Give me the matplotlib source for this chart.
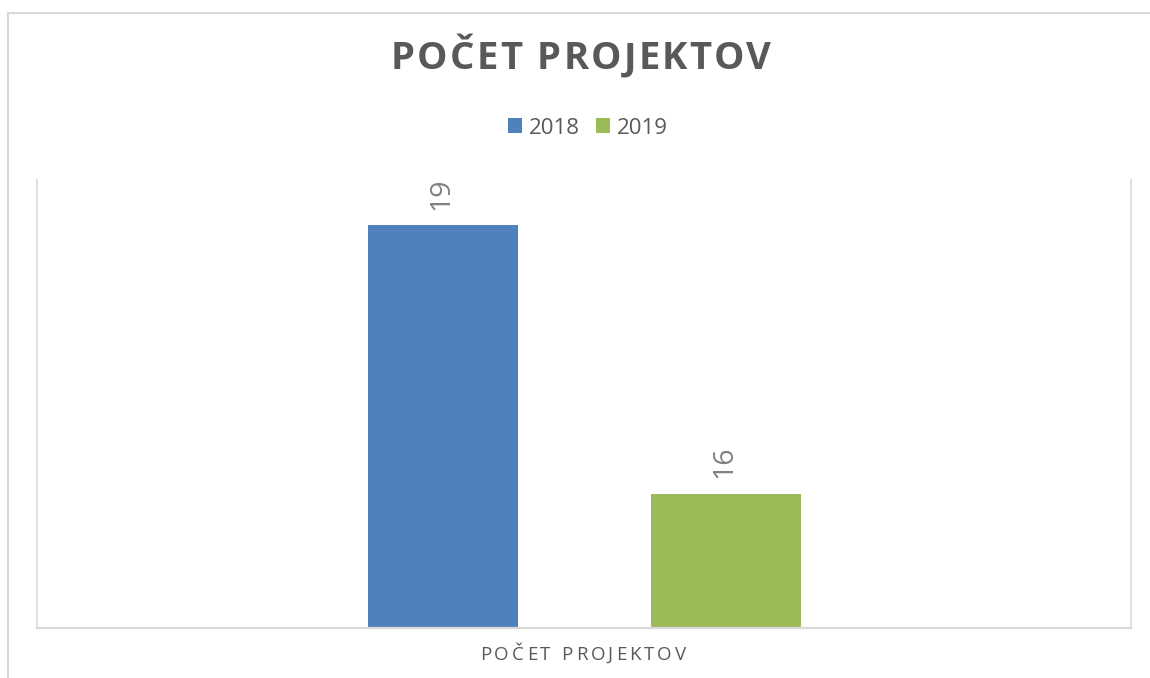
import matplotlib
matplotlib.use("Agg")
import matplotlib.pyplot as plt
from matplotlib.patches import Rectangle

# data
kategoria = "POČET PROJEKTOV"
roky = ["2018", "2019"]
hodnoty = [19, 16]
farby = ["#4F81BD", "#9BBB59"]

W, H = 1150, 678
fig = plt.figure(figsize=(W / 100, H / 100), dpi=100)
plt.rcParams['font.family'] = ['Open Sans', 'DejaVu Sans']

# plot area in pixels
L, R, T, B = 37, 1131, 180, 628
ax = fig.add_axes([L / W, 1 - B / H, (R - L) / W, (B - T) / H])

sirka = 150 / (R - L)
posun = 141.5 / (R - L)
pozicie = [-posun, posun]
for x, v, c, r in zip(pozicie, hodnoty, farby, roky):
    ax.bar(x, v, width=sirka, color=c, label=r, zorder=2)
    ax.annotate(str(v), (x, v), xytext=(-1, 11), textcoords='offset points',
                rotation=90, ha='center', va='bottom', fontsize=20.5,
                color='#808080', family=['Open Sans'])

ax.set_xlim(-0.5, 0.5)
ax.set_ylim(14.5, 19.5)
ax.set_xticks([])
ax.set_yticks([])
ax.spines['top'].set_visible(False)
for s in ['left', 'right']:
    ax.spines[s].set_color('#d9d9d9')
    ax.spines[s].set_linewidth(1.2)
ax.spines['bottom'].set_color('#d9d9d9')
ax.spines['bottom'].set_linewidth(1.6)

# outer chart border (only top and left visible in the crop)
fig.patches.append(Rectangle((8 / W, -0.1), 1.2, 1 - 13 / H + 0.1,
                             transform=fig.transFigure, fill=False,
                             edgecolor='#d9d9d9', linewidth=1.5))

leg = ax.legend(loc='center', bbox_to_anchor=(588 / W, 1 - 128 / H),
                bbox_transform=fig.transFigure, ncol=2, frameon=False,
                fontsize=16, handlelength=0.62, handleheight=0.62,
                handletextpad=0.3, columnspacing=0.75, borderpad=0)
for t in leg.get_texts():
    t.set_color('#595959')

fig.canvas.draw()
renderer = fig.canvas.get_renderer()


def rozostup_text(s, cx, cy, medzera, **kw):
    # text with letter spacing, centred at pixel (cx, cy)
    sirky = []
    for ch in s:
        t = fig.text(0, 0, ch if ch != ' ' else 'o', **kw)
        sirky.append(t.get_window_extent(renderer).width * (0.45 if ch == ' ' else 1))
        t.remove()
    celk = sum(sirky) + medzera * (len(s) - 1)
    x = cx - celk / 2
    for ch, w in zip(s, sirky):
        if ch != ' ':
            fig.text(x / W, 1 - cy / H, ch, ha='left', va='center', **kw)
        x += w + medzera


rozostup_text(kategoria, 581, 59, 2.2, fontsize=27.5, fontweight='bold', color='#595959')
rozostup_text(kategoria, 583, 655, 3.0, fontsize=13.5, color='#595959')

fig.savefig("out.png", dpi=100)
